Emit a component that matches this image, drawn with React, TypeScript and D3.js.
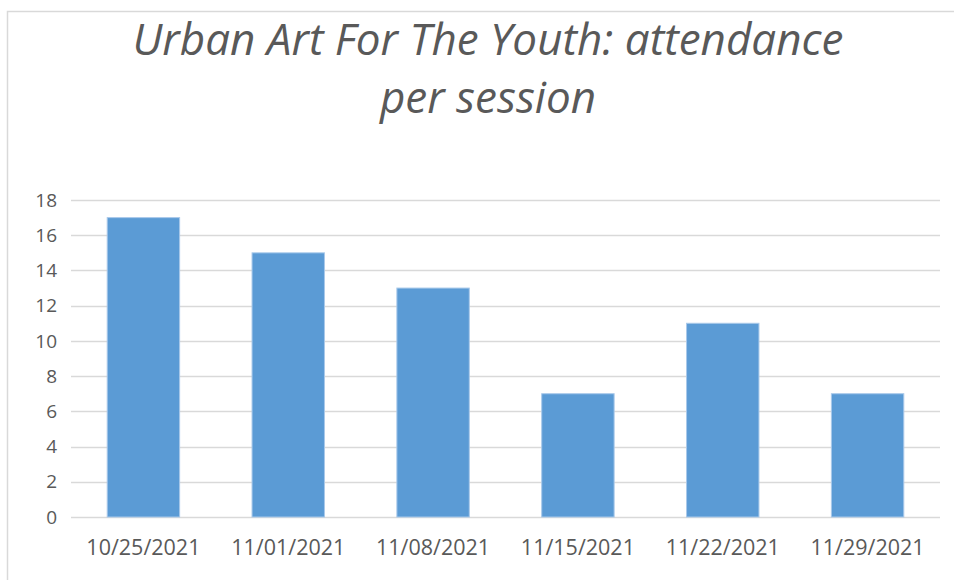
import { useEffect, useRef } from "react";
import * as d3 from "d3";

const sessions = ["10/25/2021", "11/01/2021", "11/08/2021", "11/15/2021", "11/22/2021", "11/29/2021"];
const attendance = [17, 15, 13, 7, 11, 7];
const yTicks = [0, 2, 4, 6, 8, 10, 12, 14, 16, 18];
const titleLines = ["Urban Art For The Youth: attendance", "per session"];

export default function App() {
  const svgRef = useRef<SVGSVGElement | null>(null);

  useEffect(() => {
    if (!svgRef.current) return;
    const svg = d3.select(svgRef.current);
    svg.selectAll("*").remove();

    const width = 954;
    const height = 580;
    const margin = { top: 200, right: 14, bottom: 63, left: 71 };
    const font = "'Open Sans', 'Liberation Sans', sans-serif";

    // chart frame, only top/left edges are visible in the crop
    svg
      .append("rect")
      .attr("x", 7.5)
      .attr("y", 11.5)
      .attr("width", width + 10)
      .attr("height", height + 10)
      .attr("fill", "#fff")
      .attr("stroke", "#d9d9d9")
      .attr("stroke-width", 1.5);

    const x = d3
      .scaleBand()
      .domain(sessions)
      .range([margin.left, width - margin.right])
      .paddingInner(0.5)
      .paddingOuter(0.25);
    const y = d3
      .scaleLinear()
      .domain([0, 18])
      .range([height - margin.bottom, margin.top]);

    // gridlines
    svg
      .append("g")
      .selectAll("line")
      .data(yTicks)
      .enter()
      .append("line")
      .attr("x1", margin.left)
      .attr("x2", width - margin.right)
      .attr("y1", (d) => Math.round(y(d)) + 0.5)
      .attr("y2", (d) => Math.round(y(d)) + 0.5)
      .attr("stroke", "#d9d9d9")
      .attr("stroke-width", 1.5);

    // y labels
    svg
      .append("g")
      .selectAll("text")
      .data(yTicks)
      .enter()
      .append("text")
      .attr("x", 57)
      .attr("y", (d) => y(d))
      .attr("dy", "0.35em")
      .attr("text-anchor", "end")
      .attr("fill", "#595959")
      .style("font-family", font)
      .style("font-size", "19px")
      .text((d) => d);

    // bars
    svg
      .append("g")
      .selectAll("rect")
      .data(attendance)
      .enter()
      .append("rect")
      .attr("x", (_, i) => x(sessions[i])!)
      .attr("y", (d) => y(d))
      .attr("width", x.bandwidth())
      .attr("height", (d) => y(0) - y(d))
      .attr("fill", "#5b9bd5")
      .attr("stroke", "#a9c9ea")
      .attr("stroke-width", 1);

    // x labels
    svg
      .append("g")
      .selectAll("text")
      .data(sessions)
      .enter()
      .append("text")
      .attr("x", (d) => x(d)! + x.bandwidth() / 2)
      .attr("y", 555)
      .attr("text-anchor", "middle")
      .attr("fill", "#595959")
      .style("font-family", font)
      .style("font-size", "21.5px")
      .text((d) => d);

    // title
    svg
      .append("g")
      .selectAll("text")
      .data(titleLines)
      .enter()
      .append("text")
      .attr("x", 488)
      .attr("y", (_, i) => 55 + i * 58)
      .attr("text-anchor", "middle")
      .attr("fill", "#595959")
      .style("font-family", font)
      .style("font-style", "italic")
      .style("font-size", "44px")
      .text((d) => d);
  }, []);

  return (
    <svg
      ref={svgRef}
      width={954}
      height={580}
      style={{ position: "absolute", left: 0, top: 0, background: "#fff" }}
    ></svg>
  );
}
